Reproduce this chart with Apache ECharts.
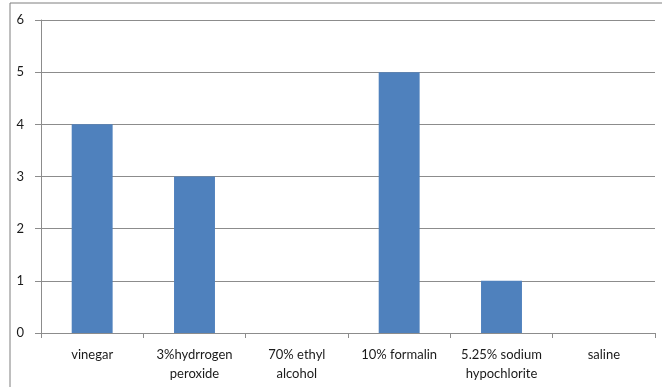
<!DOCTYPE html>
<html>
<head>
<meta charset="utf-8">
<script src="https://cdn.jsdelivr.net/npm/echarts@6/dist/echarts.min.js"></script>
<style>
  html, body { margin: 0; padding: 0; background: #fff; }
  #chart { width: 662px; height: 387px; }
</style>
</head>
<body>
<div id="chart"></div>
<script>
// Disinfectant categories and their counts
const categories = ['vinegar', '3%hydrrogen\nperoxide', '70% ethyl\nalcohol', '10% formalin', '5.25% sodium\nhypochlorite', 'saline'];
const counts = [4, 3, 0, 5, 1, 0];
const yTicks = [0, 1, 2, 3, 4, 5, 6];

const font = 'Lato, "Open Sans", sans-serif';
const chart = echarts.init(document.getElementById('chart'), null, { renderer: 'canvas' });

chart.setOption({
  animation: false,
  backgroundColor: '#fff',
  graphic: [
    // surrounding frame (left and top edges)
    { type: 'line', shape: { x1: 10, y1: 3, x2: 662, y2: 3 }, style: { stroke: '#7f7f7f', lineWidth: 1 } },
    { type: 'line', shape: { x1: 10, y1: 3, x2: 10, y2: 387 }, style: { stroke: '#7f7f7f', lineWidth: 1 } }
  ],
  grid: { left: 41, right: 7, top: 20, bottom: 54, containLabel: false },
  xAxis: {
    type: 'category',
    data: categories,
    axisLine: { lineStyle: { color: '#8c8c8c', width: 1 } },
    axisTick: { show: true, length: 5, alignWithLabel: false, lineStyle: { color: '#8c8c8c' } },
    axisLabel: { color: '#1a1a1a', fontFamily: font, fontSize: 13, lineHeight: 19, margin: 12, interval: 0 }
  },
  yAxis: {
    type: 'value',
    min: yTicks[0],
    max: yTicks[yTicks.length - 1],
    interval: 1,
    axisLine: { show: true, lineStyle: { color: '#8c8c8c', width: 1 } },
    axisTick: { show: true, length: 6, lineStyle: { color: '#8c8c8c' } },
    axisLabel: { color: '#1a1a1a', fontFamily: font, fontSize: 13, margin: 17 },
    splitLine: { show: true, lineStyle: { color: '#8c8c8c', width: 1 } }
  },
  series: [{
    type: 'bar',
    data: counts,
    barWidth: '40%',
    itemStyle: { color: '#4f81bd', borderWidth: 0 }
  }]
});
</script>
</body>
</html>
